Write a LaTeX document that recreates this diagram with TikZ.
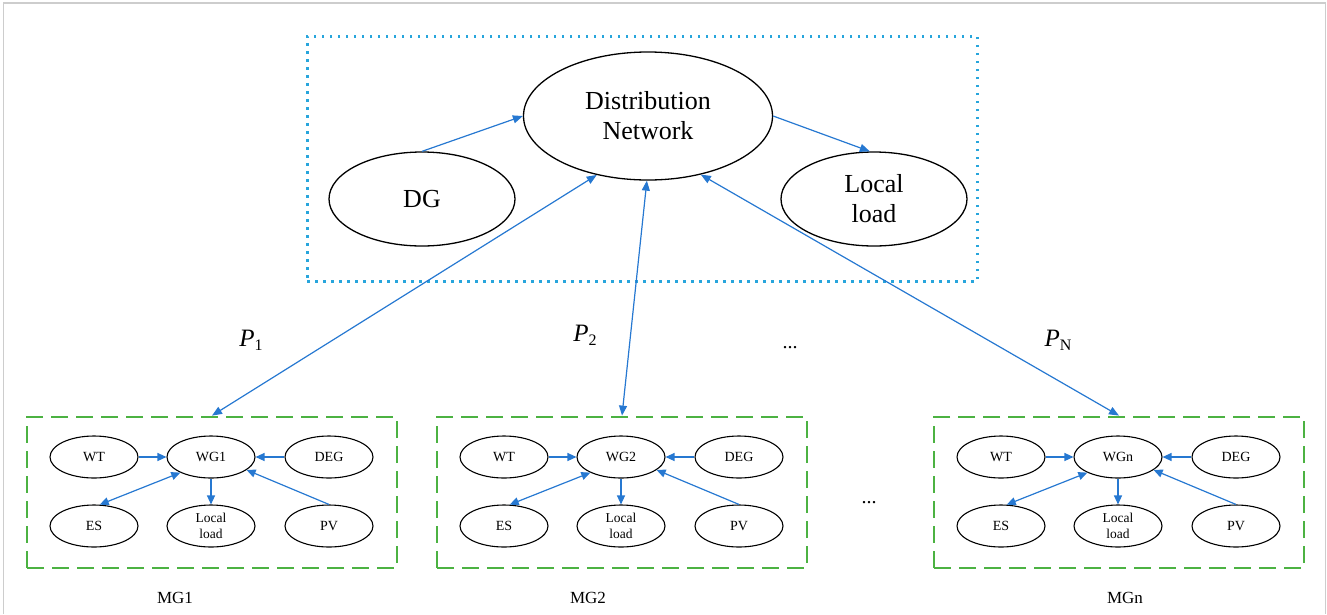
\documentclass[tikz,border=0pt]{standalone}
\usepackage{fontspec}
\setmainfont{Liberation Serif}
\usetikzlibrary{arrows.meta,shapes.geometric}
\definecolor{arrblue}{RGB}{38,120,209}
\definecolor{dotblue}{RGB}{40,165,220}
\definecolor{mggreen}{RGB}{76,178,66}
\definecolor{framegray}{RGB}{205,205,205}
\begin{document}
\begin{tikzpicture}[x=1pt,y=-1pt,
  bigell/.style={draw, ellipse, line width=1.3pt, inner sep=0pt, align=center,
    font=\fontsize{26}{30}\selectfont},
  smallell/.style={draw, ellipse, line width=1.1pt, minimum width=88pt, minimum height=42pt,
    inner sep=0pt, align=center, font=\fontsize{14}{16}\selectfont},
  conn/.style={draw=arrblue, line width=1.2pt, -{Triangle[length=10pt,width=8pt]}},
  dconn/.style={draw=arrblue, line width=1.2pt, {Triangle[length=10pt,width=8pt]}-{Triangle[length=10pt,width=8pt]}},
  mgbox/.style={draw=mggreen, line width=2.8pt, dash pattern=on 17pt off 8pt,
    minimum width=370pt, minimum height=151pt, inner sep=0pt},
  lbl/.style={inner sep=0pt}
]
\useasboundingbox (0,0) rectangle (1327,614);
% outer frame
\draw[framegray, line width=1.5pt] (3.5,614) -- (3.5,3) -- (1325.5,3) -- (1325.5,614);

% top region
\node[draw=dotblue, line width=3pt, dash pattern=on 2.5pt off 5.5pt, minimum width=670pt,
  minimum height=245pt, inner sep=0pt] (top) at (642,158.5) {};
\node[bigell, minimum width=249pt, minimum height=128pt] (dn) at (648,116) {Distribution\\Network};
\node[bigell, minimum width=186pt, minimum height=94pt] (dg) at (422,199) {DG};
\node[bigell, minimum width=186pt, minimum height=94pt] (ll) at (874,199) {Local\\load};
\draw[conn] (dg.north) -- (dn.west);
\draw[conn] (dn.east) -- (ll.95);

% microgrids
\foreach \i/\dx/\mx in {1/0/175, 2/410/588, n/907/1125} {
  \node[mgbox] (mg\i) at ({212+\dx},492.5) {};
  \node[smallell] (wt\i) at ({94+\dx},457) {WT};
  \node[smallell] (wg\i) at ({211+\dx},457) {WG\i};
  \node[smallell] (deg\i) at ({329+\dx},457) {DEG};
  \node[smallell] (es\i) at ({94+\dx},526) {ES};
  \node[smallell, font=\fontsize{13.5}{16.5}\selectfont] (lo\i) at ({211+\dx},526) {Local\\load};
  \node[smallell] (pv\i) at ({329+\dx},526) {PV};
  \node[lbl, font=\fontsize{17}{20}\selectfont] (mgl\i) at (\mx,598) {MG\i};
  \draw[conn, -{Triangle[length=9pt,width=8pt]}] (wt\i.east) -- (wg\i.west);
  \draw[conn, -{Triangle[length=9pt,width=8pt]}] (deg\i.west) -- (wg\i.east);
  \draw[conn, -{Triangle[length=9pt,width=8pt]}] (wg\i.south) -- (lo\i.north);
  \draw[conn, -{Triangle[length=9pt,width=8pt]}] (pv\i.north) -- (wg\i.-20);
  \draw[dconn, {Triangle[length=9pt,width=8pt]}-{Triangle[length=9pt,width=8pt]}] (es\i.75) -- (wg\i.207);
}

% links to distribution network
\draw[dconn] (mg1.north) -- (dn.229);
\draw[dconn] (mg2.north) -- (dn.269);
\draw[dconn] (mgn.north) -- (dn.-48);

% labels
\node[lbl, font=\fontsize{25}{28}\selectfont] (p1) at (251,340) {\textit{P}\raisebox{-0.35ex}{\fontsize{16}{16}\selectfont 1}};
\node[lbl, font=\fontsize{25}{28}\selectfont] (p2) at (585,335) {\textit{P}\raisebox{-0.35ex}{\fontsize{16}{16}\selectfont 2}};
\node[lbl, font=\fontsize{25}{28}\selectfont] (pn) at (1058,340) {\textit{P}\raisebox{-0.35ex}{\fontsize{16}{16}\selectfont N}};
\node[lbl, font=\fontsize{20}{24}\selectfont] (dots1) at (790,348) {...};
\node[lbl, font=\fontsize{20}{24}\selectfont] (dots2) at (869,503) {...};
\end{tikzpicture}
\end{document}
